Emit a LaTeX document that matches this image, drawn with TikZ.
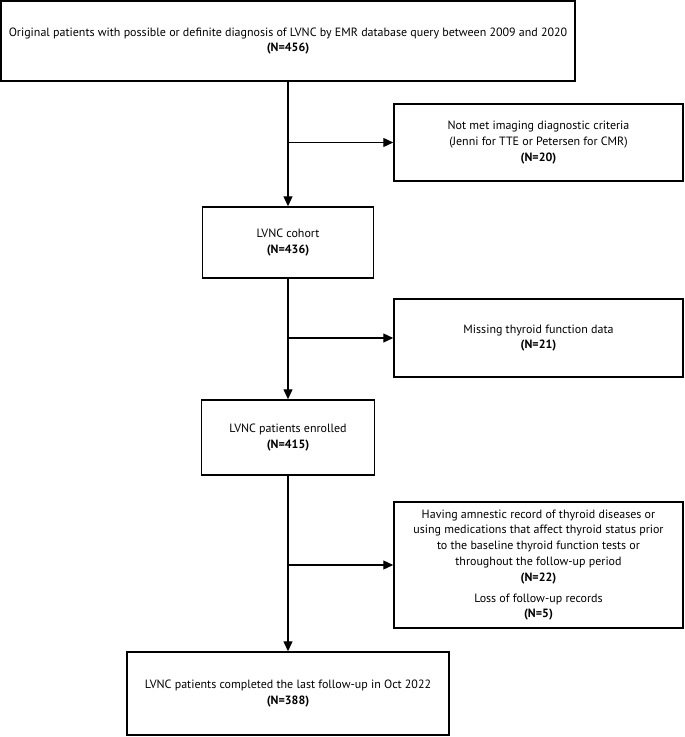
\documentclass[tikz,border=0pt]{standalone}
\usepackage{fontspec}
\setmainfont{PT Sans}
\usetikzlibrary{arrows.meta, positioning, calc}

\begin{document}
\begin{tikzpicture}[
    x=1pt, y=-1pt,
    every node/.style={font=\fontsize{12}{15.8}\selectfont},
    mainbox/.style={draw, line width=1.5pt, align=center, inner sep=0pt},
    sidebox/.style={draw, line width=1.5pt, align=center, inner sep=0pt, minimum width=289pt},
    flowarrow/.style={draw, line width=1.3pt, -{Triangle[length=10pt, width=9pt]}}
]
    \useasboundingbox (0,0) rectangle (685,737);
    % Main flow boxes
    \node[mainbox, minimum width=574pt, minimum height=80pt] (orig) at (288,41)
        {Original patients with possible or definite diagnosis of LVNC by EMR database query between 2009 and 2020\\
        \textbf{(N=456)}};
    \node[mainbox, minimum width=171pt, minimum height=71pt] (cohort) at (288,242.5)
        {LVNC cohort\\\textbf{(N=436)}};
    \node[mainbox, minimum width=173pt, minimum height=75pt] (enrolled) at (288,437.5)
        {LVNC patients enrolled\\\textbf{(N=415)}};
    \node[mainbox, minimum width=322pt, minimum height=83pt] (final) at (288,693.5)
        {LVNC patients completed the last follow-up in Oct 2022\\\textbf{(N=388)}};
    % Exclusion boxes
    \node[sidebox, minimum height=77pt] (notmet) at (538.5,142.5)
        {Not met imaging diagnostic criteria\\
        (Jenni for TTE or Petersen for CMR)\\
        \textbf{(N=20)}};
    \node[sidebox, minimum height=78pt] (missing) at (538.5,338)
        {Missing thyroid function data\\\textbf{(N=21)}};
    \node[sidebox, minimum height=126pt] (history) at (538.5,565)
        {Having amnestic record of thyroid diseases or\\
        using medications that affect thyroid status prior\\
        to the baseline thyroid function tests or\\
        throughout the follow-up period\\
        \textbf{(N=22)}\\[5pt]
        Loss of follow-up records\\
        \textbf{(N=5)}};
    % Connectors
    \draw[flowarrow] (orig) -- (cohort);
    \draw[flowarrow] (cohort) -- (enrolled);
    \draw[flowarrow] (enrolled) -- (final);
    \draw[flowarrow] (orig.south |- notmet.west) -- (notmet.west);
    \draw[flowarrow] (cohort.south |- missing.west) -- (missing.west);
    \draw[flowarrow] (enrolled.south |- history.west) -- (history.west);
\end{tikzpicture}
\end{document}
